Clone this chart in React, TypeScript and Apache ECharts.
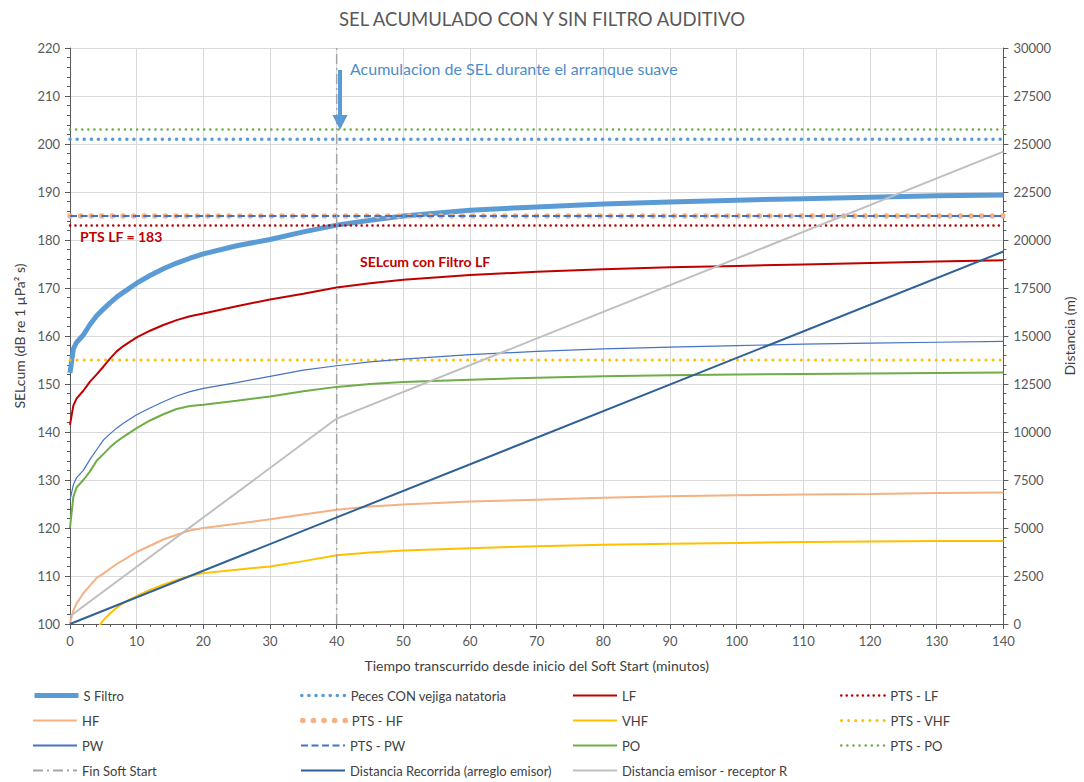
import React, { useEffect, useRef } from "react";
import * as echarts from "echarts";

// ---- Data ----
const T = [0, 0.5, 1, 2, 3, 4, 5, 6, 7, 8, 10, 12, 14, 16, 18, 20, 25, 30, 35, 40, 45, 50, 60, 70, 80, 90, 100, 110, 120, 130, 140];
const sFiltro = [152.3, 157.3, 158.7, 160.2, 162.4, 164.2, 165.6, 166.9, 168.1, 169.1, 171.0, 172.6, 174.0, 175.2, 176.2, 177.1, 178.8, 180.1, 181.7, 183.1, 184.1, 185.0, 186.2, 186.9, 187.5, 187.9, 188.3, 188.6, 188.9, 189.2, 189.4];
const lf = [141.5, 145.5, 147.0, 148.6, 150.5, 152.0, 153.6, 155.3, 156.8, 157.9, 159.7, 161.1, 162.3, 163.3, 164.1, 164.7, 166.2, 167.6, 168.8, 170.1, 171.0, 171.7, 172.7, 173.4, 173.9, 174.3, 174.6, 174.9, 175.2, 175.5, 175.8];
const hf = [100.2, 102.8, 104.3, 106.4, 108.0, 109.6, 110.5, 111.5, 112.5, 113.3, 115.0, 116.3, 117.6, 118.6, 119.5, 120.0, 120.9, 121.8, 122.8, 123.8, 124.5, 124.9, 125.5, 125.9, 126.3, 126.6, 126.8, 127.0, 127.1, 127.3, 127.4];
const vhf = [null, null, null, null, null, 98.8, 100.8, 102.2, 103.4, 104.4, 105.8, 107.1, 108.2, 109.2, 110.0, 110.6, 111.3, 112.0, 113.1, 114.3, 114.9, 115.3, 115.8, 116.2, 116.5, 116.7, 116.9, 117.1, 117.2, 117.3, 117.3];
const pw = [125.8, 129.0, 130.5, 132.0, 134.3, 136.3, 138.3, 139.6, 140.8, 141.8, 143.6, 145.0, 146.3, 147.5, 148.4, 149.1, 150.3, 151.6, 152.9, 153.8, 154.6, 155.2, 156.1, 156.8, 157.3, 157.7, 158.0, 158.3, 158.5, 158.7, 158.9];
const po = [120.0, 126.5, 128.5, 130.0, 131.8, 134.0, 135.4, 136.8, 138.0, 139.0, 140.8, 142.4, 143.7, 144.8, 145.4, 145.7, 146.5, 147.4, 148.5, 149.4, 150.0, 150.4, 150.9, 151.3, 151.6, 151.8, 152.0, 152.1, 152.2, 152.3, 152.4];

const distT = [0, 40, 140];
const distRecorrida = [0, 5550, 19400];
const distReceptor = [400, 10700, 24600];

const PECES = 201;
const PTS_LF = 183;
const PTS_HF = 185;
const PTS_VHF = 155;
const PTS_PW = 185;
const PTS_PO = 203;
const FIN_SOFT_START = 40;

const X_MIN = 0;
const X_MAX = 140;
const Y_MIN = 100;
const Y_MAX = 220;

const FONT = "Lato, 'Open Sans', sans-serif";

const pairs = (xs: number[], ys: (number | null)[]) => xs.map((x, i) => [x, ys[i]]);
const hline = (v: number) => [[X_MIN, v], [X_MAX, v]];

function buildOption() {
  const line = (name: string, data: any, color: string, width: number, extra: any = {}, yAxisIndex = 0) => ({
    name,
    type: "line",
    data,
    yAxisIndex,
    symbol: "none",
    showSymbol: false,
    smooth: false,
    connectNulls: false,
    lineStyle: { color, width, ...extra },
    itemStyle: { color },
    silent: true,
  });

  const series = [
    line("S Filtro", pairs(T, sFiltro), "#5B9BD5", 5),
    line("Peces CON vejiga natatoria", hline(PECES), "#5B9BD5", 3.5, { type: [0.1, 7], cap: "round" }),
    line("LF", pairs(T, lf), "#C00000", 2),
    line("PTS - LF", hline(PTS_LF), "#C00000", 2.5, { type: [0.1, 5.3], cap: "round" }),
    line("HF", pairs(T, hf), "#F4B183", 2),
    line("PTS - HF", hline(PTS_HF), "#F4B183", 5.5, { type: [0.1, 10.5], cap: "round" }),
    line("VHF", pairs(T, vhf), "#FFC000", 2),
    line("PTS - VHF", hline(PTS_VHF), "#FFC000", 3, { type: [0.1, 7], cap: "round" }),
    line("PW", pairs(T, pw), "#4472C4", 1.2),
    line("PTS - PW", hline(PTS_PW), "#4472C4", 2, { type: [7, 3.5] }),
    line("PO", pairs(T, po), "#70AD47", 2),
    line("PTS - PO", hline(PTS_PO), "#70AD47", 2.5, { type: [0.1, 6], cap: "round" }),
    line("Fin Soft Start", [[FIN_SOFT_START, Y_MIN], [FIN_SOFT_START, Y_MAX]], "#A5A5A5", 1.5, { type: [10, 4, 2, 4] }),
    line("Distancia Recorrida (arreglo emisor)", pairs(distT, distRecorrida), "#2E6196", 2, {}, 1),
    line("Distancia emisor - receptor R", pairs(distT, distReceptor), "#BFBFBF", 2, {}, 1),
  ];

  const colLeft = [32, 300, 572, 840];
  const rowCenter = [697, 722, 747, 772];
  const legends = series.map((s, i) => ({
    data: [s.name],
    orient: "horizontal",
    left: colLeft[i % 4],
    top: rowCenter[Math.floor(i / 4)] - 8,
    padding: 0,
    itemWidth: 44,
    itemHeight: 14,
    itemGap: 5,
    selectedMode: false,
    itemStyle: { opacity: 0, borderWidth: 0 },
    lineStyle: { ...s.lineStyle, width: Math.max(s.lineStyle.width, 2) },
    textStyle: { color: "#404040", fontSize: 13, fontFamily: FONT },
  }));

  const axisLabel = { color: "#595959", fontSize: 13, fontFamily: FONT };
  const axisLine = { show: true, lineStyle: { color: "#595959", width: 1 } };
  const axisTick = { show: true, length: 5, lineStyle: { color: "#595959" } };
  const minorTick = { show: true, splitNumber: 5, length: 3, lineStyle: { color: "#595959" } };

  return {
    animation: false,
    backgroundColor: "#ffffff",
    title: {
      text: "SEL ACUMULADO CON Y SIN FILTRO AUDITIVO",
      left: "center",
      top: 4,
      textStyle: { color: "#595959", fontSize: 18.5, fontWeight: "normal", fontFamily: FONT },
    },
    grid: { left: 70, right: 76, top: 48, bottom: 158, containLabel: false },
    legend: legends,
    xAxis: {
      type: "value",
      min: X_MIN,
      max: X_MAX,
      interval: 10,
      name: "Tiempo transcurrido desde inicio del Soft Start (minutos)",
      nameLocation: "middle",
      nameGap: 34,
      nameTextStyle: { color: "#404040", fontSize: 14, fontFamily: FONT },
      axisLine: { ...axisLine, onZero: false },
      axisTick,
      minorTick,
      axisLabel: { ...axisLabel, margin: 10 },
      splitLine: { show: true, lineStyle: { color: "#D9D9D9", width: 1 } },
    },
    yAxis: [
      {
        type: "value",
        min: Y_MIN,
        max: Y_MAX,
        interval: 10,
        position: "left",
        name: "SELcum (dB re 1 µPa² s)",
        nameLocation: "middle",
        nameGap: 43,
        nameTextStyle: { color: "#404040", fontSize: 14, fontFamily: FONT },
        axisLine,
        axisTick,
        minorTick,
        axisLabel: { ...axisLabel, margin: 10 },
        splitLine: { show: true, lineStyle: { color: "#D9D9D9", width: 1 } },
      },
      {
        type: "value",
        min: 0,
        max: 30000,
        interval: 2500,
        position: "right",
        name: "Distancia (m)",
        nameLocation: "middle",
        nameGap: 57,
        nameTextStyle: { color: "#404040", fontSize: 14, fontFamily: FONT },
        axisLine,
        axisTick,
        minorTick,
        axisLabel: { ...axisLabel, margin: 10, formatter: (v: number) => String(v) },
        splitLine: { show: false },
      },
    ],
    graphic: [
      { type: "rect", shape: { x: 338, y: 70, width: 4, height: 48 }, style: { fill: "#5B9BD5" }, z: 100 },
      { type: "polygon", shape: { points: [[332.5, 115], [347.5, 115], [340, 130]] }, style: { fill: "#5B9BD5" }, z: 100 },
      {
        type: "text",
        x: 350,
        y: 68,
        style: { text: "Acumulacion de SEL durante el arranque suave", fill: "#4E8DCC", fontSize: 16, fontFamily: FONT, verticalAlign: "middle" },
        z: 100,
      },
      {
        type: "text",
        x: 80,
        y: 236,
        style: { text: "PTS LF = 183", fill: "#C00000", fontSize: 14, fontWeight: "bold", fontFamily: FONT, verticalAlign: "middle" },
        z: 100,
      },
      {
        type: "text",
        x: 360,
        y: 261,
        style: { text: "SELcum con Filtro LF", fill: "#C00000", fontSize: 14, fontWeight: "bold", fontFamily: FONT, verticalAlign: "middle" },
        z: 100,
      },
    ],
    series,
  };
}

export default function App() {
  const ref = useRef<HTMLDivElement>(null);
  useEffect(() => {
    if (!ref.current) return;
    const chart = echarts.init(ref.current, null, { renderer: "svg" });
    chart.setOption(buildOption() as any);
    return () => chart.dispose();
  }, []);
  return (
    <div
      ref={ref}
      style={{ position: "absolute", left: 0, top: 0, width: 1084, height: 782, background: "#fff" }}
    />
  );
}
